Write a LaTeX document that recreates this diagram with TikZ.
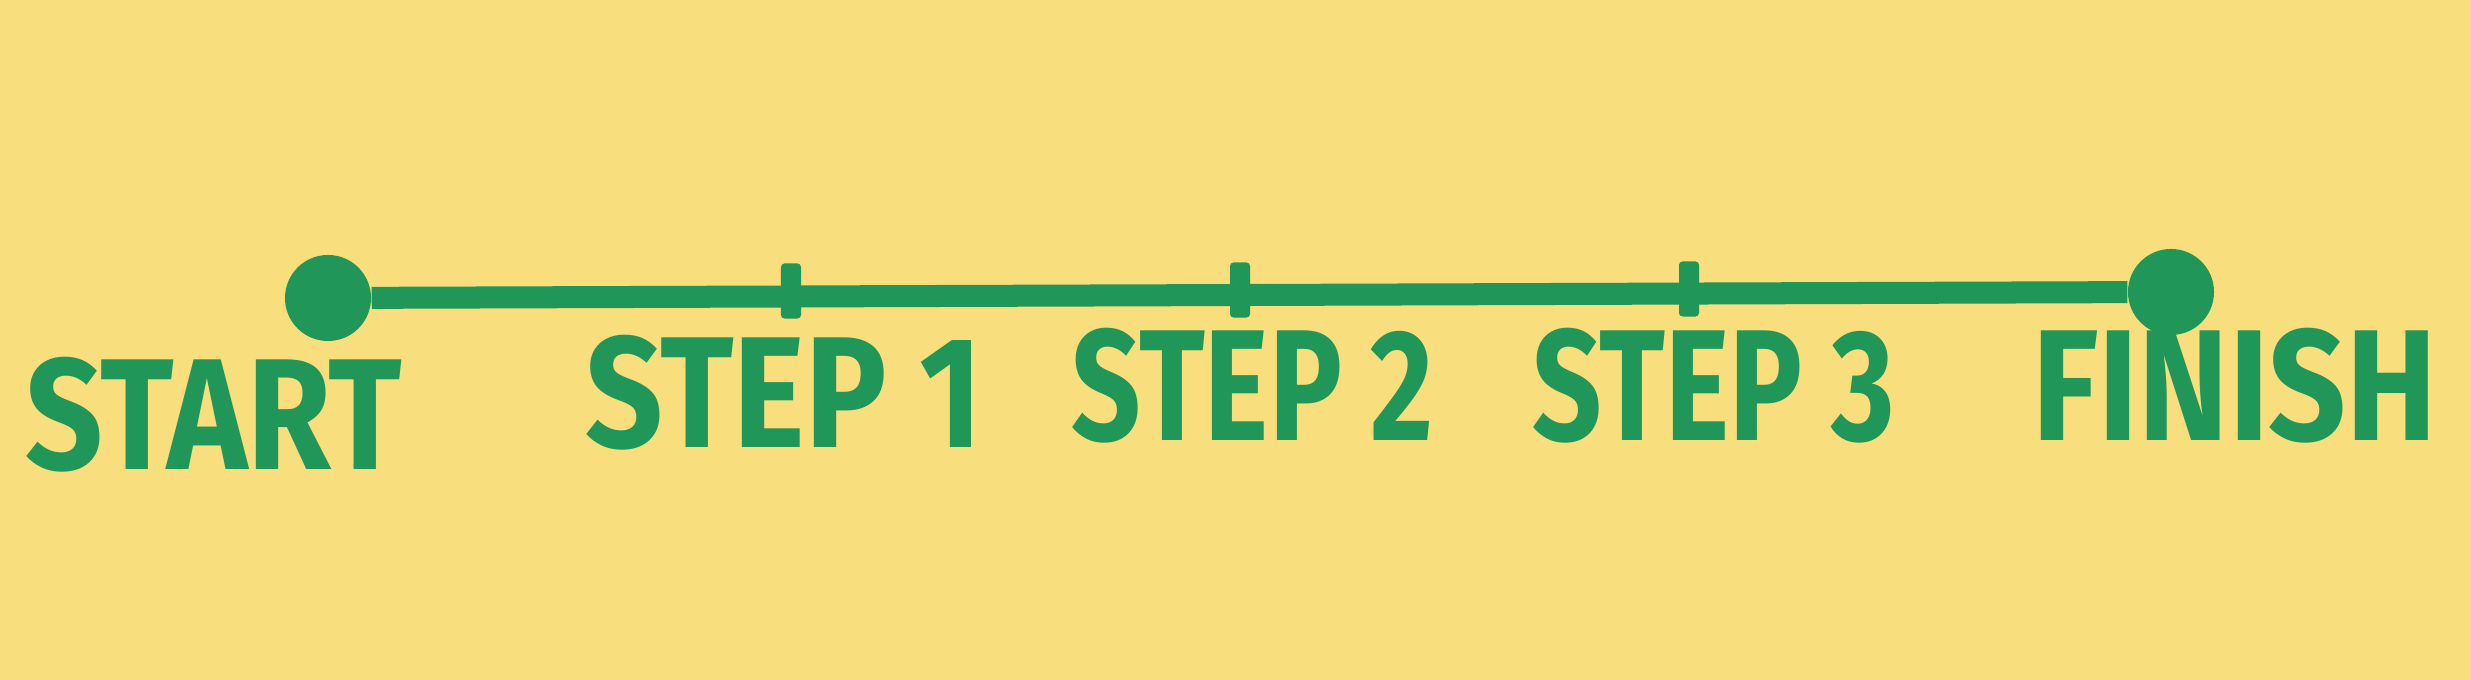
\documentclass[tikz,border=0pt]{standalone}
\usepackage{fontspec}
\setmainfont{Fira Sans}
\newfontfamily\handwide[FakeStretch=0.86]{Fira Sans}
\newfontfamily\handnarrow[FakeStretch=0.77]{Fira Sans}
\usetikzlibrary{positioning}
\definecolor{paper}{RGB}{248,222,124}
\definecolor{marker}{RGB}{32,150,88}

\begin{document}
\begin{tikzpicture}[x=0.01cm, y=-0.01cm, % pixel grid of the sheet
		dot/.style={circle, fill=marker, inner sep=0pt, minimum size=0.86cm},
		tickmark/.style={rectangle, fill=marker, rounded corners=1pt, inner sep=0pt, minimum width=0.2cm, minimum height=0.55cm},
		track/.style={draw=marker, line width=0.22cm},
		steptext/.style={text=marker, inner sep=0pt, font=\handwide\fontsize{45}{45}\selectfont\bfseries},
		midtext/.style={steptext, font=\handnarrow\fontsize{45}{45}\selectfont\bfseries}
		]
		
		% paper
		\fill[paper] (0,0) rectangle (2471,680);
		
		% start and finish points
		\node[dot] (start) at (328,298) {};
		\node[dot] (finish) at (2171,292) {};
		\draw[track] (start) -- (finish);
		
		% steps on the line
		\node[tickmark] (tick1) at (791,291) {};
		\node[tickmark] (tick2) at (1240,290) {};
		\node[tickmark] (tick3) at (1689,289) {};
		
		% labels
		\node[steptext] (startlabel) at (214,415) {START};
		\node[steptext] (step1) at (784,393) {STEP 1};
		\node[midtext] (step2) at (1253,386) {STEP 2};
		\node[midtext] (step3) at (1714,386) {STEP 3};
		\node[steptext] (finishlabel) at (2235,386) {FINISH};
		
	\end{tikzpicture}
\end{document}
